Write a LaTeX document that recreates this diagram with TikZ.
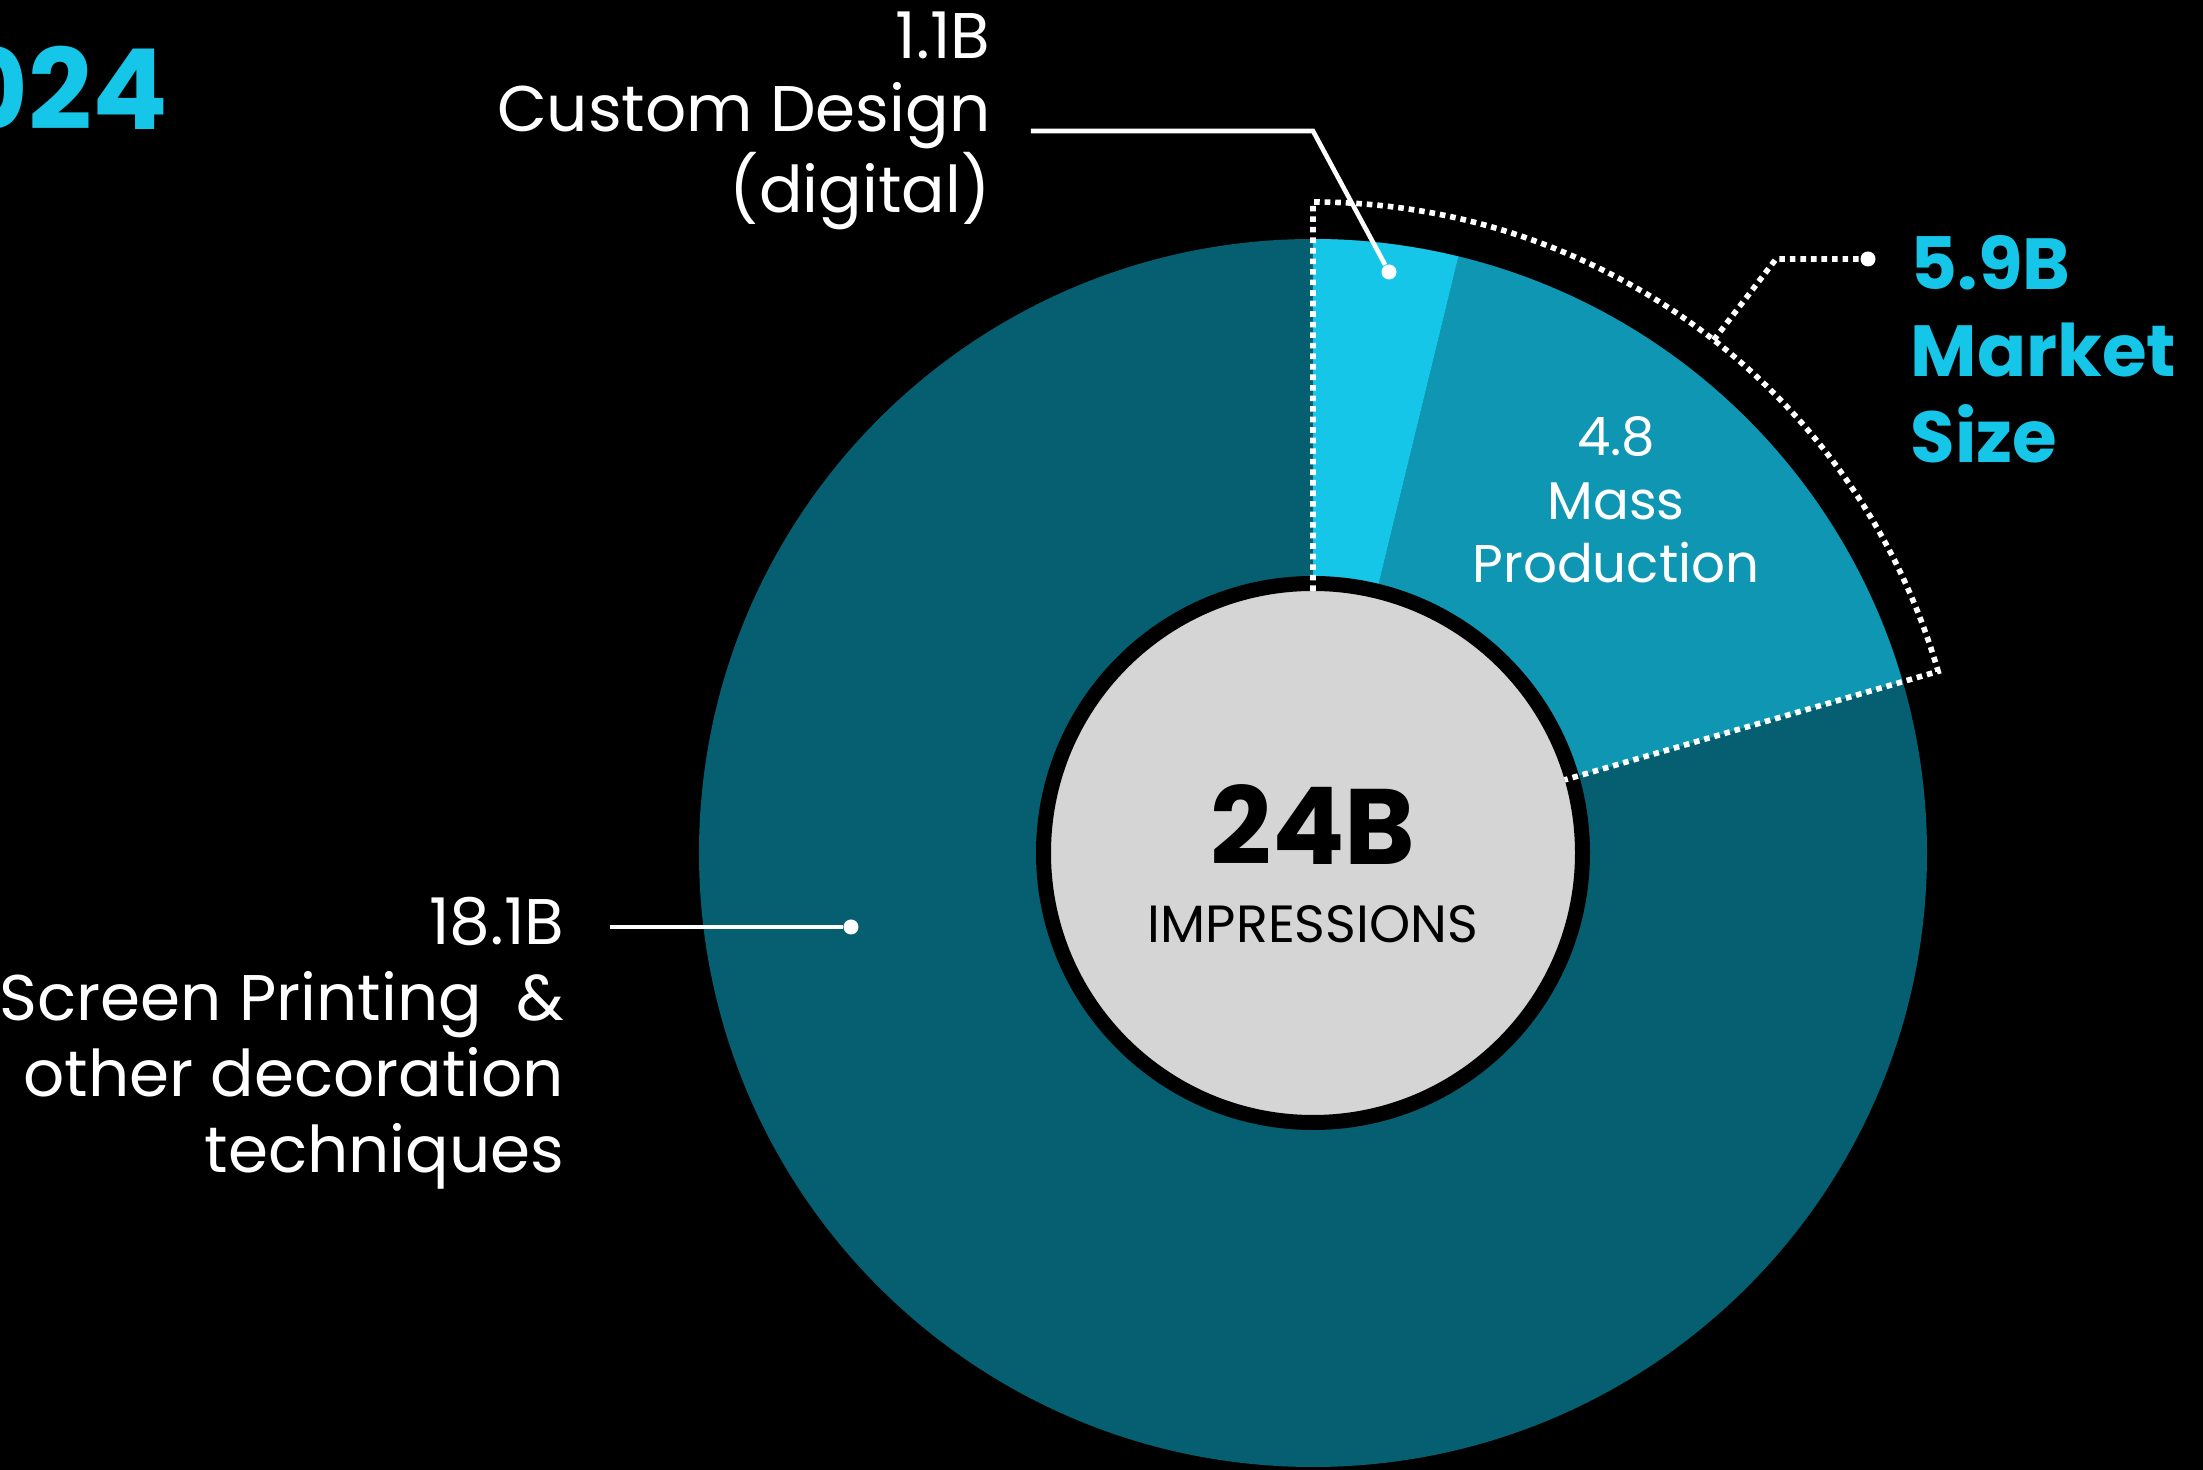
\documentclass[tikz,border=0pt]{standalone}
\usepackage{fontspec}
\setmainfont{Poppins}
\definecolor{digitalcyan}{HTML}{15C6E9}
\definecolor{masscyan}{HTML}{0F96B2}
\definecolor{screenteal}{HTML}{065F70}
\definecolor{hubgray}{HTML}{D5D5D5}

\begin{document}
\begin{tikzpicture}[every node/.style={inner sep=0pt, text=white},
    leader/.style={draw=white, line width=1.3pt},
    dotleader/.style={draw=white, line width=1.6pt, dash pattern=on 1.6pt off 1.4pt},
    tip/.style={circle, fill=white, minimum size=0.15cm},
    label/.style={font=\fontsize{18.35}{21.7}\selectfont}]
        \clip (-13.13,-6.17) rectangle (8.90,8.53);
        \fill[black] (-13.13,-6.17) rectangle (8.90,8.53);
        % donut slices
        \fill[screenteal] (0,0) circle (6.14);
        \fill[masscyan] (0,0) -- (16.2:6.14) arc (16.2:76.3:6.14) -- cycle;
        \fill[digitalcyan] (0,0) -- (76.3:6.14) arc (76.3:90:6.14) -- cycle;
        \node[circle, fill=hubgray, draw=black, line width=0.15cm, minimum size=5.39cm] (hub) at (0,0) {};
        \node[text=black, anchor=base, font=\bfseries\fontsize{30.5}{36}\selectfont] (total) at (0,-0.12) {24B};
        \node[text=black, anchor=base, font=\fontsize{14.9}{18}\selectfont] (unit) at (0,-0.90) {IMPRESSIONS};
        % market share bracket
        \draw[dotleader] (90:2.62) -- (90:6.51) arc (90:16.2:6.51) -- (16.2:2.62);
        \node[tip] (digitaldot) at (0.76,5.81) {};
        \node[tip] (marketdot) at (5.55,5.94) {};
        \node[tip] (screendot) at (-4.62,-0.74) {};
        \coordinate (digitalbend) at (0,7.22);
        \coordinate (digitalend) at (-2.82,7.22);
        \coordinate (marketstart) at (52:6.51);
        \coordinate (marketbend) at (4.63,5.94);
        \coordinate (screenend) at (-7.03,-0.74);
        % labels (base = last line)
        \node[label, anchor=base east] (digitalval) at (-3.22,7.94) {1.1B};
        \node[label, anchor=base east, align=right] (digital) at (-3.22,6.40) {Custom Design\\(digital)};
        \node[anchor=base, align=center, font=\fontsize{15.1}{18.2}\selectfont] (mass) at (3.03,2.70) {4.8\\Mass\\Production};
        \node[anchor=base west, align=left, text=digitalcyan, font=\bfseries\fontsize{20.6}{24.7}\selectfont] (market) at (5.97,3.90) {5.9B\\Market\\Size};
        \node[label, anchor=base east, align=right] (screen) at (-7.48,-3.20) {18.1B\\Screen Printing\ \ \&\\other decoration\\techniques};
        \node[anchor=base east, text=digitalcyan, font=\bfseries\fontsize{31.8}{36}\selectfont] (year) at (-11.44,7.23) {2024};
        % leader lines
        \draw[leader] (digitalend) -- (digitalbend) -- (digitaldot);
        \draw[dotleader] (marketstart) -- (marketbend) -- (marketdot);
        \draw[leader] (screenend) -- (screendot);
\end{tikzpicture}
\end{document}
